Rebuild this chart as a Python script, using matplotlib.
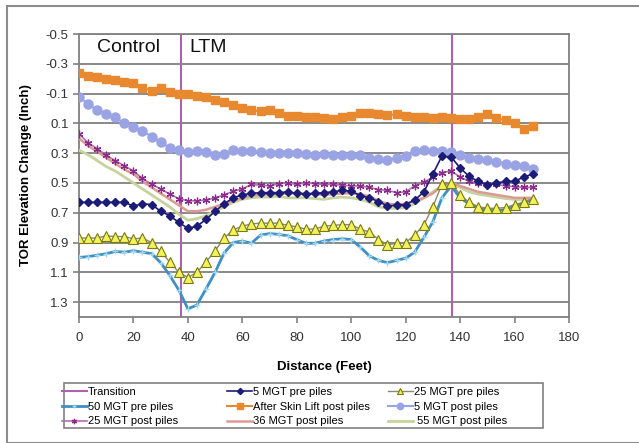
import numpy as np
import matplotlib.pyplot as plt
from matplotlib.patches import Rectangle

plt.rcParams['font.family'] = ['Liberation Sans', 'DejaVu Sans']

# distance along track (ft), one reading every ~3.33 ft
dist = [0, 3.3, 6.7, 10, 13.3, 16.7, 20, 23.3, 26.7, 30, 33.3, 36.7, 40, 43.3, 46.7, 50, 53.3,
        56.7, 60, 63.3, 66.7, 70, 73.3, 76.7, 80, 83.3, 86.7, 90, 93.3, 96.7, 100, 103.3, 106.7,
        110, 113.3, 116.7, 120, 123.3, 126.7, 130, 133.3, 136.7, 140, 143.3, 146.7, 150, 153.3,
        156.7, 160, 163.3, 166.7]

transition = [37.5, 137]

mgt5_pre = [0.63, 0.63, 0.63, 0.63, 0.63, 0.63, 0.655, 0.64, 0.645, 0.69, 0.72, 0.765, 0.805,
            0.79, 0.745, 0.69, 0.64, 0.6, 0.58, 0.57, 0.565, 0.565, 0.565, 0.56, 0.57, 0.575,
            0.57, 0.565, 0.56, 0.55, 0.555, 0.585, 0.6, 0.625, 0.655, 0.65, 0.645, 0.615, 0.56,
            0.44, 0.32, 0.325, 0.40, 0.455, 0.49, 0.515, 0.5, 0.49, 0.49, 0.46, 0.44]

mgt25_pre = [0.87, 0.87, 0.87, 0.855, 0.86, 0.86, 0.875, 0.87, 0.9, 0.96, 1.03, 1.1, 1.135,
             1.1, 1.03, 0.955, 0.87, 0.815, 0.79, 0.775, 0.77, 0.77, 0.77, 0.785, 0.795, 0.81,
             0.81, 0.79, 0.785, 0.78, 0.78, 0.81, 0.83, 0.88, 0.915, 0.905, 0.9, 0.85, 0.78,
             0.66, 0.51, 0.5, 0.58, 0.63, 0.66, 0.67, 0.67, 0.665, 0.645, 0.63, 0.61]

mgt50_pre = [1.0, 0.995, 0.985, 0.975, 0.96, 0.965, 0.955, 0.965, 0.975, 1.035, 1.12, 1.22,
             1.345, 1.32, 1.21, 1.1, 0.97, 0.9, 0.89, 0.905, 0.85, 0.84, 0.845, 0.855, 0.88,
             0.905, 0.905, 0.89, 0.88, 0.875, 0.88, 0.93, 0.99, 1.02, 1.035, 1.02, 1.005, 0.965,
             0.865, 0.76, 0.6, 0.52, 0.6, 0.64, 0.67, 0.685, 0.685, 0.68, 0.655, 0.635, 0.61]

skin_lift = [-0.24, -0.22, -0.21, -0.2, -0.19, -0.18, -0.17, -0.14, -0.12, -0.135, -0.11, -0.10,
             -0.095, -0.085, -0.075, -0.055, -0.045, -0.02, 0.0, 0.01, 0.02, 0.01, 0.03, 0.05,
             0.05, 0.055, 0.06, 0.065, 0.07, 0.06, 0.05, 0.03, 0.03, 0.035, 0.045, 0.04, 0.05,
             0.055, 0.06, 0.065, 0.06, 0.065, 0.07, 0.07, 0.06, 0.04, 0.065, 0.08, 0.095, 0.135,
             0.115]

mgt5_post = [-0.08, -0.03, 0.01, 0.04, 0.06, 0.1, 0.125, 0.15, 0.19, 0.225, 0.265, 0.28, 0.29,
             0.285, 0.295, 0.31, 0.305, 0.28, 0.285, 0.285, 0.29, 0.3, 0.3, 0.3, 0.3, 0.305,
             0.31, 0.305, 0.31, 0.31, 0.31, 0.315, 0.33, 0.34, 0.345, 0.33, 0.32, 0.285, 0.28,
             0.285, 0.285, 0.295, 0.31, 0.33, 0.34, 0.345, 0.36, 0.37, 0.38, 0.385, 0.405]

mgt25_post = [0.17, 0.23, 0.27, 0.315, 0.35, 0.385, 0.42, 0.47, 0.51, 0.54, 0.575, 0.605, 0.62,
              0.62, 0.615, 0.6, 0.58, 0.555, 0.54, 0.51, 0.515, 0.52, 0.505, 0.5, 0.51, 0.5,
              0.505, 0.51, 0.51, 0.515, 0.52, 0.52, 0.53, 0.545, 0.55, 0.565, 0.56, 0.52, 0.495,
              0.46, 0.43, 0.42, 0.46, 0.49, 0.5, 0.505, 0.51, 0.52, 0.525, 0.53, 0.53]

mgt36_post = [0.2, 0.25, 0.29, 0.33, 0.37, 0.41, 0.44, 0.49, 0.53, 0.57, 0.61, 0.65, 0.69, 0.69,
              0.68, 0.66, 0.64, 0.62, 0.6, 0.585, 0.58, 0.575, 0.575, 0.57, 0.57, 0.57, 0.575,
              0.58, 0.575, 0.57, 0.57, 0.575, 0.59, 0.62, 0.64, 0.645, 0.64, 0.62, 0.6, 0.57,
              0.52, 0.5, 0.52, 0.54, 0.56, 0.57, 0.58, 0.59, 0.6, 0.6, 0.6]

mgt55_post = [0.28, 0.31, 0.35, 0.39, 0.42, 0.46, 0.5, 0.54, 0.58, 0.62, 0.66, 0.71, 0.75, 0.74,
              0.72, 0.69, 0.66, 0.63, 0.61, 0.6, 0.595, 0.595, 0.59, 0.6, 0.6, 0.6, 0.605, 0.61,
              0.6, 0.595, 0.6, 0.61, 0.63, 0.66, 0.67, 0.67, 0.665, 0.64, 0.6, 0.56, 0.52, 0.5,
              0.53, 0.56, 0.575, 0.585, 0.595, 0.605, 0.61, 0.615, 0.61]

W, H = 639, 443
fig = plt.figure(figsize=(W / 100, H / 100), dpi=100)
# chart area frame
fig.patches.append(Rectangle((7 / W, 0), 1, 1 - 6 / H, transform=fig.transFigure,
                             fill=False, edgecolor='#8c8c8c', linewidth=1.5))
# legend frame
fig.patches.append(Rectangle((64 / W, 1 - 428 / H), 479 / W, 45 / H, transform=fig.transFigure,
                             fill=False, edgecolor='#808080', linewidth=1.2))
ax = fig.add_axes([79 / W, 1 - 317 / H, 490 / W, 283 / H])

h = {}
for xt in transition:
    h['Transition'] = ax.axvline(xt, color='#b060b0', lw=1.5, zorder=2)

h['55'], = ax.plot(dist, mgt55_post, color='#c6d39c', lw=2, zorder=3)
h['36'], = ax.plot(dist, mgt36_post, color='#dc9a92', lw=1.8, zorder=3)
h['50'], = ax.plot(dist, mgt50_pre, color='#3f8ec4', lw=2, marker='+', ms=5, mec='#9fd8ee',
                   mew=1, zorder=4)
h['25pre'], = ax.plot(dist, mgt25_pre, color='#8a8a70', lw=1, marker='^', ms=6.5,
                      mfc='#f2f25a', mec='#7a7a10', mew=0.8, zorder=5)
h['25post'], = ax.plot(dist, mgt25_post, color='#b070b0', lw=1.2, marker=(6, 2, 0), ms=5.5,
                       mec='#8a2a8a', mew=0.9, zorder=5)
h['5pre'], = ax.plot(dist, mgt5_pre, color='#1c1c78', lw=1.2, marker='D', ms=4.5,
                     mfc='#1c1c78', mec='#1c1c78', zorder=6)
h['5post'], = ax.plot(dist, mgt5_post, color='#9aa3e3', lw=1.5, marker='o', ms=6.5,
                      mfc='#9aa3e3', mec='#9aa3e3', zorder=5)
h['skin'], = ax.plot(dist, skin_lift, color='#e8892f', lw=1.5, marker='s', ms=6,
                     mfc='#e8892f', mec='#e8892f', zorder=5)

ax.set_xlim(0, 180)
ax.set_ylim(1.4, -0.5)
ax.set_xticks(range(0, 181, 20))
yt = np.arange(-0.5, 1.31, 0.2)
ax.set_yticks(yt)
ax.set_yticklabels(['%.1f' % v for v in yt])
ax.grid(axis='y', color='#808080', lw=1.3)
ax.set_axisbelow(True)
for s in ax.spines.values():
    s.set_color('#808080')
    s.set_linewidth(1.3)
ax.tick_params(axis='both', colors='#808080', labelcolor='#333333', labelsize=9.5,
               direction='out', length=4, width=1.2)
ax.tick_params(axis='x', pad=7)

ax.set_xlabel('Distance (Feet)', fontsize=9.5, fontweight='bold', labelpad=12)
ax.set_ylabel('TOR Elevation Change (Inch)', fontsize=9.5, fontweight='bold', labelpad=10)

ax.text(6.5, -0.41, 'Control', fontsize=14, va='center', ha='left', color='#111111')
ax.text(40.5, -0.41, 'LTM', fontsize=14, va='center', ha='left', color='#111111')

# legend filled column by column, so list entries column-wise
order = [('Transition', 'Transition'), ('50', '50 MGT pre piles'),
         ('25post', '25 MGT post piles' + '\u2007' * 5), ('5pre', '5 MGT pre piles'),
         ('skin', 'After Skin Lift post piles'), ('36', '36 MGT post piles'),
         ('25pre', '25 MGT pre piles'), ('5post', '5 MGT post piles'),
         ('55', ' 55 MGT post piles')]
leg = fig.legend([h[k] for k, _ in order], [t for _, t in order], ncol=3,
                 loc='upper left', bbox_to_anchor=(61 / W, 1 - 386 / H),
                 fontsize=8, frameon=False, handlelength=2.2, handletextpad=0.15,
                 labelspacing=0.42, borderpad=0.1, columnspacing=1.6, markerscale=0.7,
                 borderaxespad=0)

fig.savefig('out.png', dpi=100)
